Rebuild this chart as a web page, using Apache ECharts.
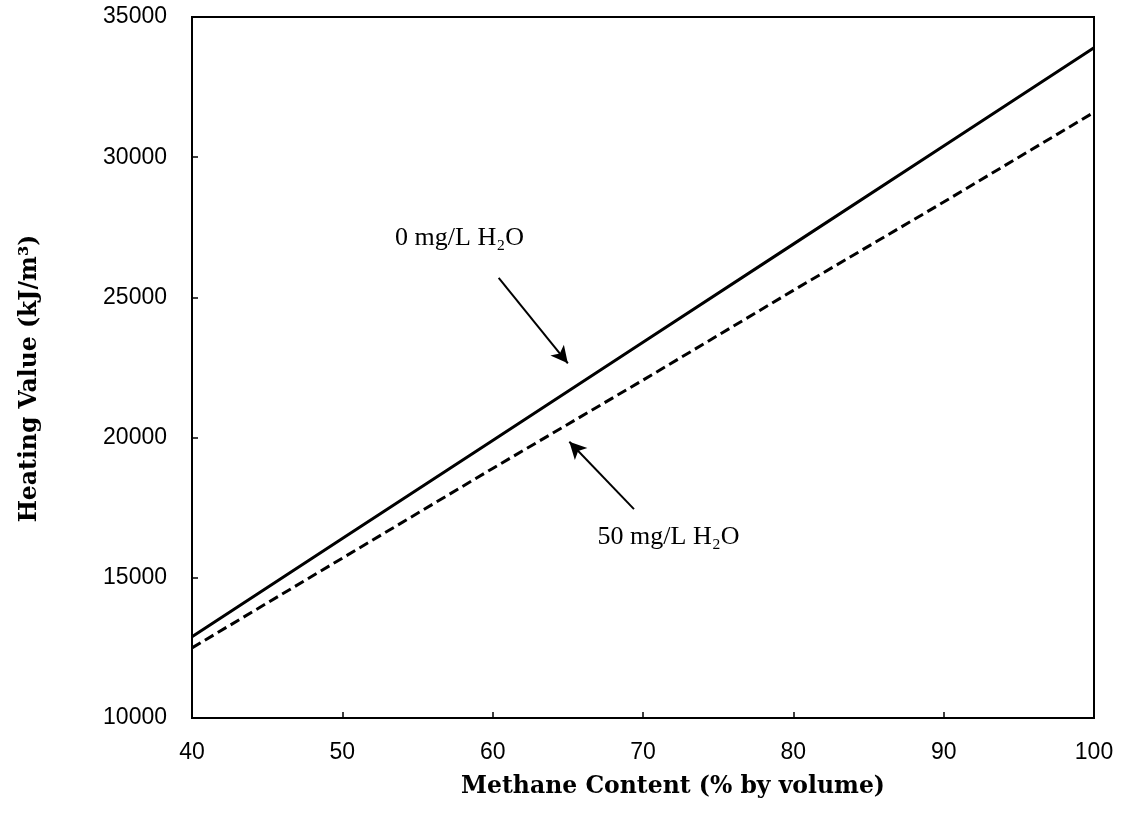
<!DOCTYPE html>
<html>
<head>
<meta charset="utf-8">
<script src="https://cdn.jsdelivr.net/npm/echarts@6/dist/echarts.min.js"></script>
<style>
  html, body { margin: 0; padding: 0; background: #fff; }
  #chart { width: 1122px; height: 835px; }
</style>
</head>
<body>
<div id="chart"></div>
<script>
// methane content (% by volume)
var methane = [40, 50, 60, 70, 80, 90, 100];
// heating value (kJ/m3)
var hvDry = [12900, 16400, 19900, 23400, 26900, 30400, 33900];
var hvWet = [12500, 15700, 18900, 22050, 25250, 28400, 31600];

// annotation arrows [tail, tip] and label anchors, in data units
var arrowDry = [[60.4, 25700], [65.0, 22650]];
var arrowWet = [[69.4, 17450], [65.1, 19850]];
var labelDry = [57.8, 27100];
var labelWet = [71.7, 16450];

function pairs(xs, ys) {
    return xs.map(function (x, i) { return [x, ys[i]]; });
}

var chart = echarts.init(document.getElementById('chart'));
var serif = '"Liberation Serif", "DejaVu Serif", serif';

var options = {
    animation: false,
    grid: {
        left: 192, top: 17, right: 28, bottom: 117,
        show: true,
        borderColor: '#000',
        borderWidth: 2
    },
    xAxis: {
        type: 'value',
        min: 40, max: 100, interval: 10,
        name: 'Methane Content (% by volume)',
        nameLocation: 'middle',
        nameGap: 57,
        nameTextStyle: {
            fontFamily: '"DejaVu Serif", serif',
            fontWeight: 'bold',
            fontSize: 23.5,
            color: '#000',
            padding: [0, 0, 0, 60]
        },
        axisLine: { lineStyle: { color: '#000', width: 2 } },
        axisTick: { inside: true, length: 6, lineStyle: { color: '#000', width: 1.5 } },
        axisLabel: { fontFamily: '"Liberation Sans", sans-serif', fontSize: 23, color: '#000', margin: 23 },
        splitLine: { show: false }
    },
    yAxis: {
        type: 'value',
        min: 10000, max: 35000, interval: 5000,
        name: 'Heating Value (kJ/m³)',
        nameLocation: 'middle',
        nameGap: 150,
        nameTextStyle: {
            fontFamily: '"DejaVu Serif", serif',
            fontWeight: 'bold',
            fontSize: 23.5,
            color: '#000',
            padding: [0, 22, 0, 0]
        },
        axisLine: { lineStyle: { color: '#000', width: 2 } },
        axisTick: { inside: true, length: 6, lineStyle: { color: '#000', width: 1.5 } },
        axisLabel: {
            fontFamily: '"Liberation Sans", sans-serif', fontSize: 23, color: '#000', margin: 25,
            formatter: function (v) { return String(v); }
        },
        splitLine: { show: false }
    },
    series: [{
        name: '0 mg/L H2O',
        type: 'line',
        data: pairs(methane, hvDry),
        symbol: 'none',
        lineStyle: { color: '#000', width: 3 },
        silent: true,
        markLine: {
            silent: true,
            symbol: ['none', 'arrow'],
            symbolSize: [13, 17],
            label: { show: false },
            lineStyle: { color: '#000', width: 2, type: 'solid' },
            data: [[{ coord: arrowDry[0] }, { coord: arrowDry[1] }]]
        },
        markPoint: {
            silent: true,
            symbolSize: 0,
            label: {
                show: true, position: 'inside',
                formatter: '0 mg/L H₂O',
                fontFamily: serif, fontSize: 26, color: '#000'
            },
            data: [{ coord: labelDry }]
        }
    }, {
        name: '50 mg/L H2O',
        type: 'line',
        data: pairs(methane, hvWet),
        symbol: 'none',
        lineStyle: { color: '#000', width: 3, type: [10, 5] },
        silent: true,
        markLine: {
            silent: true,
            symbol: ['none', 'arrow'],
            symbolSize: [13, 17],
            label: { show: false },
            lineStyle: { color: '#000', width: 2, type: 'solid' },
            data: [[{ coord: arrowWet[0] }, { coord: arrowWet[1] }]]
        },
        markPoint: {
            silent: true,
            symbolSize: 0,
            label: {
                show: true, position: 'inside',
                formatter: '50 mg/L H₂O',
                fontFamily: serif, fontSize: 26, color: '#000'
            },
            data: [{ coord: labelWet }]
        }
    }]
};
chart.setOption(options);
</script>
</body>
</html>
